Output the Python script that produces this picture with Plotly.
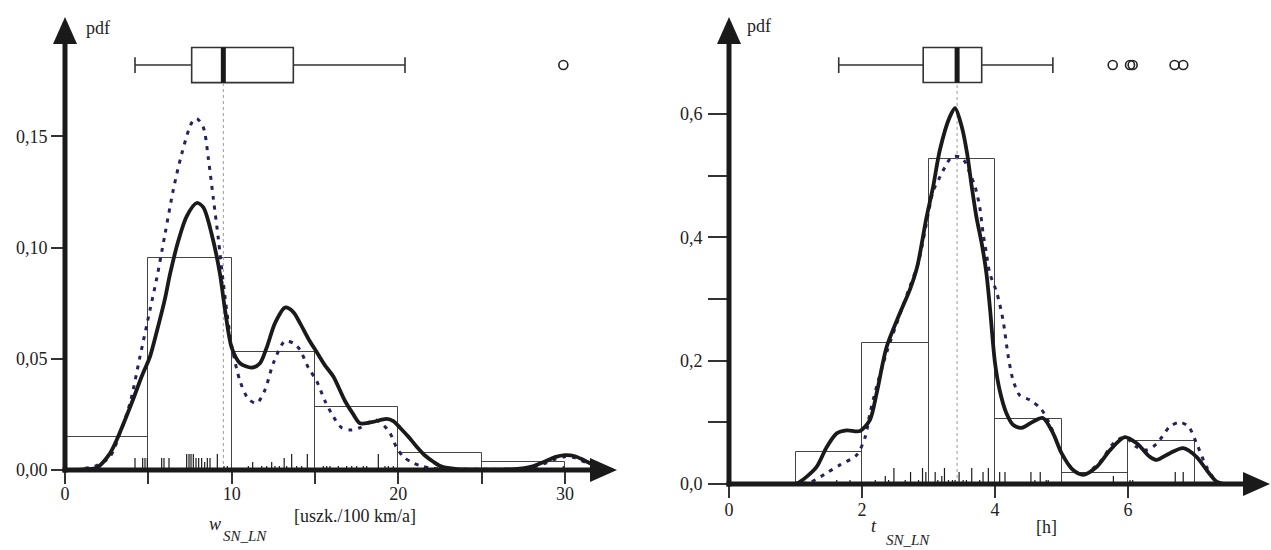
import plotly.graph_objects as go

# ---------------- data: left panel (w_SN_LN) ----------------
w_hist_left = [0, 5, 10, 15, 20, 25]
w_hist_width = 5
w_hist_pdf = [0.0148, 0.0953, 0.0530, 0.0283, 0.0076, 0.0037]

w_kde_x = [0, 1.0, 1.9, 2.7, 3.1, 3.6, 4.1, 4.6, 5.1, 5.5, 6.0, 6.3, 6.8, 7.3, 7.9, 8.3, 8.8,
           9.3, 9.6, 10.0, 10.5, 11.2, 11.7, 12.1, 12.6, 13.2, 13.7, 14.1, 14.6, 15.1, 15.6,
           16.1, 16.8, 17.3, 17.7, 18.4, 19.3, 19.7, 20.1, 20.6, 21.1, 21.6, 22.1, 22.6, 23.5,
           25.0, 27.0, 28.0, 28.8, 29.4, 30.0, 30.6, 31.2, 31.8, 32.5]
w_kde_y = [0.0, 0.0002, 0.001, 0.0075, 0.0135, 0.0225, 0.032, 0.042, 0.051, 0.062, 0.077, 0.088,
           0.103, 0.114, 0.120, 0.118, 0.106, 0.088, 0.072, 0.055, 0.048, 0.046, 0.048, 0.055,
           0.066, 0.073, 0.071, 0.066, 0.059, 0.053, 0.047, 0.042, 0.031, 0.025, 0.021, 0.0215,
           0.023, 0.022, 0.019, 0.015, 0.0105, 0.0065, 0.0037, 0.0015, 0.0004, 0.0002, 0.0004,
           0.0015, 0.0038, 0.0058, 0.0067, 0.0062, 0.0042, 0.002, 0.0005]

w_fit_x = [0, 1.0, 1.9, 2.7, 3.3, 3.9, 4.5, 5.1, 5.5, 6.0, 6.5, 7.0, 7.6, 7.9, 8.3, 8.6, 8.9,
           9.2, 9.5, 10.0, 10.5, 11.0, 11.5, 12.0, 12.5, 13.2, 13.7, 14.1, 14.6, 15.1, 15.6,
           16.1, 16.6, 17.2, 17.7, 18.6, 19.0, 19.5, 19.9, 20.3, 20.8, 21.3, 22.0, 23.0, 25.0,
           27.0, 28.0, 28.8, 29.4, 30.0, 30.6, 31.2, 31.8, 32.5]
w_fit_y = [0.0, 0.0005, 0.002, 0.006, 0.0166, 0.030, 0.051, 0.072, 0.086, 0.106, 0.126, 0.142,
           0.156, 0.158, 0.154, 0.140, 0.122, 0.104, 0.084, 0.056, 0.040, 0.032, 0.030, 0.036,
           0.048, 0.058, 0.057, 0.054, 0.046, 0.040, 0.031, 0.024, 0.019, 0.018, 0.019, 0.0225,
           0.021, 0.0166, 0.010, 0.006, 0.0035, 0.002, 0.0008, 0.0004, 0.0003, 0.0004, 0.0012,
           0.003, 0.0048, 0.006, 0.0055, 0.0035, 0.0015, 0.0004]

w_rug_val = [4.20, 4.66, 4.80, 4.94, 5.80, 5.94, 6.24, 7.30, 7.44, 7.56, 7.70, 7.86, 8.02, 8.20,
             8.38, 8.54, 8.70, 9.14, 9.54, 9.74, 11.00, 11.26, 11.80, 12.10, 12.40, 12.60, 12.86,
             13.15, 13.30, 13.60, 13.90, 14.20, 14.54, 15.50, 15.70, 15.90, 16.40, 16.90, 17.20,
             17.50, 17.90, 18.10, 18.80, 19.20, 19.40, 19.70, 29.90]
w_rug_cnt = [3, 3, 3, 3, 3, 3, 3, 4, 4, 4, 4, 3, 3, 3,
             2, 3, 3, 4, 1, 1, 1, 2, 1, 1, 2, 1, 1,
             3, 1, 4, 1, 1, 4, 1, 1, 1, 1, 1, 1,
             1, 1, 1, 4, 1, 1, 1, 1]

# lower whisker, Q1, median, Q3, upper whisker
w_box_stats = [4.2, 7.6, 9.5, 13.7, 20.4]
w_outliers = [29.9]

# ---------------- data: right panel (t_SN_LN) ----------------
t_hist_left = [1, 2, 3, 4, 5, 6]
t_hist_width = 1
t_hist_pdf = [0.052, 0.228, 0.527, 0.105, 0.018, 0.070]

t_kde_x = [0.9, 1.02, 1.17, 1.32, 1.47, 1.62, 1.77, 1.97, 2.12, 2.22, 2.37, 2.57, 2.72, 2.83,
           2.97, 3.07, 3.17, 3.32, 3.40, 3.50, 3.58, 3.65, 3.72, 3.80, 3.87, 3.92, 4.0, 4.07,
           4.17, 4.27, 4.40, 4.57, 4.72, 4.87, 5.0, 5.17, 5.33, 5.53, 5.73, 5.95, 6.13, 6.33,
           6.43, 6.63, 6.83, 7.03, 7.18, 7.33, 7.45]
t_kde_y = [0, 0.001, 0.012, 0.028, 0.060, 0.082, 0.087, 0.086, 0.104, 0.147, 0.222, 0.277,
           0.315, 0.352, 0.432, 0.482, 0.541, 0.595, 0.609, 0.579, 0.536, 0.482, 0.433, 0.39,
           0.342, 0.29, 0.196, 0.152, 0.115, 0.096, 0.091, 0.101, 0.107, 0.083, 0.050, 0.023,
           0.015, 0.028, 0.055, 0.076, 0.066, 0.044, 0.039, 0.050, 0.058, 0.044, 0.023, 0.004, 0.0]

t_fit_x = [0.95, 1.22, 1.47, 1.67, 1.92, 2.05, 2.12, 2.22, 2.37, 2.57, 2.72, 2.85, 3.0, 3.07,
           3.15, 3.25, 3.35, 3.47, 3.55, 3.62, 3.70, 3.77, 3.82, 3.87, 3.92, 4.03, 4.12, 4.20,
           4.27, 4.37, 4.53, 4.68, 4.77, 4.90, 5.0, 5.17, 5.33, 5.58, 5.78, 5.95, 6.13, 6.28,
           6.43, 6.63, 6.78, 6.91, 7.03, 7.18, 7.33, 7.45]
t_fit_y = [0, 0.003, 0.018, 0.031, 0.047, 0.077, 0.115, 0.158, 0.213, 0.275, 0.32, 0.36, 0.44,
           0.475, 0.493, 0.514, 0.530, 0.530, 0.522, 0.504, 0.482, 0.449, 0.407, 0.374, 0.342,
           0.309, 0.266, 0.206, 0.169, 0.144, 0.136, 0.123, 0.109, 0.077, 0.050, 0.024, 0.015,
           0.036, 0.066, 0.076, 0.060, 0.055, 0.065, 0.093, 0.100, 0.093, 0.066, 0.028, 0.004, 0.0]

t_rug_val = [1.62, 1.82, 2.20, 2.35, 2.40, 2.48, 2.65, 2.73, 2.85, 2.91, 2.96, 3.10, 3.14, 3.20,
             3.24, 3.30, 3.36, 3.40, 3.46, 3.52, 3.57, 3.65, 3.77, 3.82, 3.90, 4.07, 4.15, 4.54,
             4.60, 4.68, 4.77, 4.80, 5.78, 6.03, 6.07, 6.71, 6.83]
t_rug_cnt = [1, 1, 1, 2, 1, 4, 1, 3, 1, 4, 3, 3, 1, 2,
             4, 1, 1, 1, 3, 1, 1, 4, 1, 3, 4, 3, 3, 3,
             1, 3, 1, 1, 2, 1, 1, 3, 3]

t_box_stats = [1.65, 2.92, 3.43, 3.80, 4.87]
t_outliers = [5.77, 6.03, 6.07, 6.70, 6.83]

# ---------------- layout geometry (pixels of the 1271x550 page) ----------------
W, H = 1271, 550
FONT = "Liberation Serif"
INK = "#1a1a1a"
NAVY = "#23235f"

panels = [
    dict(xa="x", ya="y", xdom=(65, 640), ybot=470, xr=(0, 34.5), yr=(0, 470 / 2225),
         xtip=617, ytip=17, box_y=0.182, box_h=0.0158,
         hl=w_hist_left, hw=w_hist_width, hp=w_hist_pdf,
         kx=w_kde_x, ky=w_kde_y, fx=w_fit_x, fy=w_fit_y,
         rv=w_rug_val, rc=w_rug_cnt, bs=w_box_stats, out=w_outliers),
    dict(xa="x2", ya="y2", xdom=(729, 1271), ybot=484, xr=(0, 8.15), yr=(0, 484 / 617),
         xtip=1270, ytip=17, box_y=0.679, box_h=0.0567,
         hl=t_hist_left, hw=t_hist_width, hp=t_hist_pdf,
         kx=t_kde_x, ky=t_kde_y, fx=t_fit_x, fy=t_fit_y,
         rv=t_rug_val, rc=t_rug_cnt, bs=t_box_stats, out=t_outliers),
]

fig = go.Figure()
shapes = []


def px(x):
    return x / W


def py(y):
    return 1 - y / H


for p in panels:
    uy = (p["yr"][1] - p["yr"][0]) / p["ybot"]
    xa, ya = p["xa"], p["ya"]
    lo, q1, med, q3, hi = p["bs"]
    by, bh = p["box_y"], p["box_h"]

    # histogram
    fig.add_trace(go.Bar(
        x=[l + p["hw"] / 2 for l in p["hl"]], y=p["hp"], width=p["hw"],
        marker=dict(color="rgba(0,0,0,0)", line=dict(color="#444", width=1)),
        xaxis=xa, yaxis=ya, hoverinfo="skip"))

    # dotted median guide
    fig.add_trace(go.Scatter(
        x=[med, med], y=[0, by - bh / 2], mode="lines",
        line=dict(color="#9a9a9a", width=1, dash="dot"), xaxis=xa, yaxis=ya, hoverinfo="skip"))

    # rug
    rx, ry = [], []
    for v, c in zip(p["rv"], p["rc"]):
        rx += [v, v, None]
        ry += [0, c * 4 * uy, None]
    fig.add_trace(go.Scatter(x=rx, y=ry, mode="lines", line=dict(color=INK, width=1.2),
                             xaxis=xa, yaxis=ya, hoverinfo="skip"))

    # fitted (dashed) and kernel (solid) densities
    fig.add_trace(go.Scatter(x=p["fx"], y=p["fy"], mode="lines",
                             line=dict(color=NAVY, width=3, dash="4px,6px", shape="spline",
                                       smoothing=0.8),
                             xaxis=xa, yaxis=ya))
    fig.add_trace(go.Scatter(x=p["kx"], y=p["ky"], mode="lines",
                             line=dict(color=INK, width=3.8, shape="spline", smoothing=0.8),
                             xaxis=xa, yaxis=ya))

    # box plot
    fig.add_trace(go.Box(
        orientation="h", y=[by], lowerfence=[lo], q1=[q1], median=[med], q3=[q3],
        upperfence=[hi], width=bh, whiskerwidth=0.45, fillcolor="white",
        line=dict(color="#333", width=1.6), boxpoints=False, xaxis=xa, yaxis=ya,
        hoverinfo="skip"))
    fig.add_trace(go.Scatter(x=[med, med], y=[by - bh / 2, by + bh / 2], mode="lines",
                             line=dict(color=INK, width=5), xaxis=xa, yaxis=ya,
                             hoverinfo="skip"))
    fig.add_trace(go.Scatter(x=p["out"], y=[by] * len(p["out"]), mode="markers",
                             marker=dict(symbol="circle-open", size=9, color="#222",
                                         line=dict(width=1.6)),
                             xaxis=xa, yaxis=ya, hoverinfo="skip", cliponaxis=False))

    # axes with arrowheads (paper coordinates, not clipped)
    ox, oy = p["xdom"][0], p["ybot"]
    head_l, head_w = 27, 12
    shapes.append(dict(type="line", xref="paper", yref="paper", x0=px(ox), x1=px(ox),
                       y0=py(oy + 2.5), y1=py(p["ytip"] + head_l - 2),
                       line=dict(color=INK, width=5)))
    shapes.append(dict(type="line", xref="paper", yref="paper", x0=px(ox - 2.5),
                       x1=px(p["xtip"] - head_l + 2), y0=py(oy), y1=py(oy),
                       line=dict(color=INK, width=5)))
    shapes.append(dict(type="path", xref="paper", yref="paper", fillcolor=INK,
                       line=dict(width=0),
                       path=f"M {px(ox - head_w)},{py(p['ytip'] + head_l)} "
                            f"L {px(ox + head_w)},{py(p['ytip'] + head_l)} "
                            f"L {px(ox)},{py(p['ytip'])} Z"))
    shapes.append(dict(type="path", xref="paper", yref="paper", fillcolor=INK,
                       line=dict(width=0),
                       path=f"M {px(p['xtip'] - head_l)},{py(oy - head_w)} "
                            f"L {px(p['xtip'] - head_l)},{py(oy + head_w)} "
                            f"L {px(p['xtip'])},{py(oy)} Z"))

tickfont = dict(family=FONT, size=18, color="#222")
axis_common = dict(showgrid=False, zeroline=False, showline=False, ticks="outside",
                   tickwidth=1.5, tickcolor="#333", tickfont=tickfont, fixedrange=True,
                   automargin=False)

L, R = panels
fig.update_layout(
    width=W, height=H, margin=dict(l=0, r=0, t=0, b=0, autoexpand=False),
    paper_bgcolor="white", plot_bgcolor="rgba(0,0,0,0)", showlegend=False,
    separators=", ", bargap=0,
    xaxis=dict(domain=[L["xdom"][0] / W, L["xdom"][1] / W], range=list(L["xr"]),
               anchor="y", tickvals=[0, 5, 10, 15, 20, 25, 30],
               ticktext=["0", "", "10", "", "20", "", "30"], ticklen=13,
               ticklabelstandoff=-6, **axis_common),
    yaxis=dict(domain=[1 - L["ybot"] / H, 1], range=list(L["yr"]), anchor="x",
               tickvals=[0, 0.05, 0.10, 0.15], tickformat=".2f", ticklen=13, **axis_common),
    xaxis2=dict(domain=[R["xdom"][0] / W, R["xdom"][1] / W], range=list(R["xr"]),
                anchor="y2", tickvals=[0, 2, 4, 6], ticktext=["0", "2", "4", "6"],
                ticklen=13, ticklabelstandoff=-4, **axis_common),
    yaxis2=dict(domain=[1 - R["ybot"] / H, 1], range=list(R["yr"]), anchor="x2",
                tickvals=[0, 0.1, 0.2, 0.3, 0.4, 0.5, 0.6],
                ticktext=["0,0", "", "0,2", "", "0,4", "", "0,6"], ticklen=20,
                ticklabelstandoff=2, **axis_common),
    shapes=shapes,
)

ann = [
    dict(text="pdf", x=84, y=28, size=18),
    dict(text="pdf", x=745, y=26, size=18),
    dict(text="<i>w</i>", x=207, y=524, size=18),
    dict(text="<i>SN_LN</i>", x=221, y=536, size=15),
    dict(text="[uszk./100 km/a]", x=292, y=516, size=18),
    dict(text="<i>t</i>", x=869, y=526, size=18),
    dict(text="<i>SN_LN</i>", x=884, y=540, size=15),
    dict(text="[h]", x=1034, y=527, size=18),
]
for a in ann:
    fig.add_annotation(xref="paper", yref="paper", showarrow=False, yanchor="middle",
                       xanchor="left", text=a["text"], x=px(a["x"]), y=py(a["y"]),
                       font=dict(family=FONT, size=a["size"], color="#222"))

fig.write_html("out.html", config={"displayModeBar": False},
               post_script="document.body.style.margin='0';")
